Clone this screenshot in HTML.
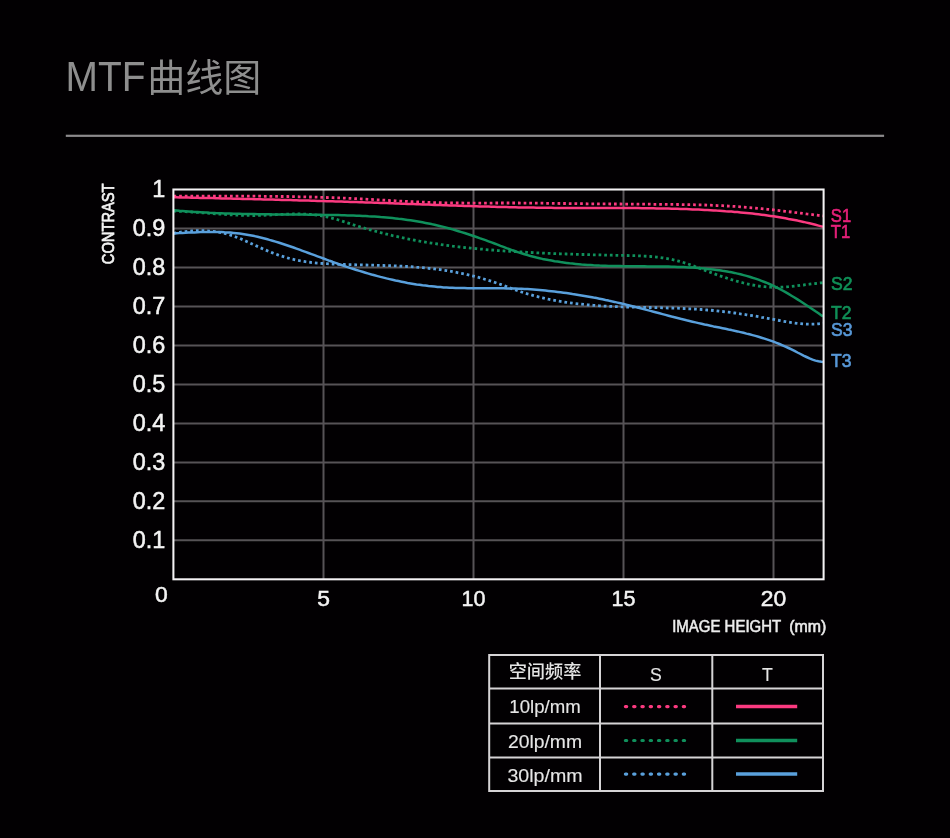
<!DOCTYPE html>
<html lang="zh-CN">
<head>
<meta charset="utf-8">
<title>MTF曲线图</title>
<style>
html,body{margin:0;padding:0;background:#020002;}
body{width:950px;height:838px;overflow:hidden;position:relative;font-family:"Liberation Sans","Noto Sans CJK SC",sans-serif;}
svg{position:absolute;left:0;top:0;display:block}
text{font-family:"Liberation Sans","Noto Sans CJK SC",sans-serif;}
.cjk{font-family:"Liberation Sans","Noto Sans CJK SC",sans-serif;}
</style>
</head>
<body>
<svg width="950" height="838" viewBox="0 0 950 838">
<rect width="950" height="838" fill="#020002"/>
<!-- title -->
<text transform="translate(65.60,91.30) scale(0.906,1)" font-size="43" fill="#8e8e8e">MTF</text>
<text transform="translate(147.20,91.20)" font-size="38" fill="#8e8e8e" class="cjk" font-weight="400">曲线图</text>

<rect x="65.8" y="134.7" width="818.3" height="2.2" fill="#8c8a8c"/>
<!-- grid -->
<g stroke="#565356" stroke-width="2" fill="none"><line x1="173.4" x2="823.6" y1="228.5" y2="228.5"/><line x1="173.4" x2="823.6" y1="267.5" y2="267.5"/><line x1="173.4" x2="823.6" y1="306.4" y2="306.4"/><line x1="173.4" x2="823.6" y1="345.4" y2="345.4"/><line x1="173.4" x2="823.6" y1="384.4" y2="384.4"/><line x1="173.4" x2="823.6" y1="423.4" y2="423.4"/><line x1="173.4" x2="823.6" y1="462.4" y2="462.4"/><line x1="173.4" x2="823.6" y1="501.3" y2="501.3"/><line x1="173.4" x2="823.6" y1="540.3" y2="540.3"/><line x1="323.5" x2="323.5" y1="189.5" y2="579.3"/><line x1="473.5" x2="473.5" y1="189.5" y2="579.3"/><line x1="623.5" x2="623.5" y1="189.5" y2="579.3"/><line x1="773.5" x2="773.5" y1="189.5" y2="579.3"/></g>
<!-- curves -->
<g fill="none" stroke-width="2.5" stroke-linejoin="round">
<path d="M173.5 233.3L176.5 233.2L179.5 233.1L182.5 232.9L185.5 232.8L188.5 232.6L191.5 232.5L194.5 232.4L197.5 232.2L200.5 232.1L203.5 232.1L206.5 232.0L209.5 232.0L212.5 232.0L215.5 232.0L218.5 232.0L221.5 232.1L224.5 232.3L227.5 232.4L230.5 232.6L233.5 232.9L236.5 233.2L239.5 233.5L242.5 233.9L245.5 234.4L248.5 234.9L251.5 235.5L254.5 236.1L257.5 236.8L260.5 237.5L263.5 238.2L266.5 239.0L269.5 239.9L272.5 240.7L275.5 241.6L278.5 242.5L281.5 243.5L284.5 244.5L287.5 245.5L290.5 246.5L293.5 247.5L296.5 248.6L299.5 249.7L302.5 250.8L305.5 251.9L308.5 253.0L311.5 254.1L314.5 255.2L317.5 256.3L320.5 257.4L323.5 258.5L326.5 259.7L329.5 260.8L332.5 261.8L335.5 262.9L338.5 264.0L341.5 265.0L344.5 266.1L347.5 267.1L350.5 268.1L353.5 269.0L356.5 270.0L359.5 270.9L362.5 271.8L365.5 272.7L368.5 273.6L371.5 274.5L374.5 275.3L377.5 276.1L380.5 276.9L383.5 277.6L386.5 278.4L389.5 279.1L392.5 279.8L395.5 280.5L398.5 281.1L401.5 281.7L404.5 282.3L407.5 282.9L410.5 283.4L413.5 283.9L416.5 284.4L419.5 284.8L422.5 285.3L425.5 285.6L428.5 286.0L431.5 286.3L434.5 286.6L437.5 286.9L440.5 287.1L443.5 287.4L446.5 287.5L449.5 287.7L452.5 287.8L455.5 287.9L458.5 288.0L461.5 288.1L464.5 288.1L467.5 288.2L470.5 288.2L473.5 288.2L476.5 288.2L479.5 288.2L482.5 288.2L485.5 288.2L488.5 288.2L491.5 288.2L494.5 288.3L497.5 288.3L500.5 288.3L503.5 288.3L506.5 288.4L509.5 288.4L512.5 288.5L515.5 288.6L518.5 288.7L521.5 288.8L524.5 289.0L527.5 289.1L530.5 289.3L533.5 289.5L536.5 289.7L539.5 290.0L542.5 290.3L545.5 290.6L548.5 290.9L551.5 291.2L554.5 291.5L557.5 291.9L560.5 292.3L563.5 292.7L566.5 293.1L569.5 293.5L572.5 294.0L575.5 294.4L578.5 294.9L581.5 295.4L584.5 295.9L587.5 296.4L590.5 297.0L593.5 297.6L596.5 298.1L599.5 298.7L602.5 299.3L605.5 300.0L608.5 300.6L611.5 301.3L614.5 301.9L617.5 302.6L620.5 303.3L623.5 304.0L626.5 304.8L629.5 305.5L632.5 306.2L635.5 307.0L638.5 307.8L641.5 308.5L644.5 309.3L647.5 310.1L650.5 310.9L653.5 311.7L656.5 312.5L659.5 313.3L662.5 314.1L665.5 314.9L668.5 315.7L671.5 316.5L674.5 317.2L677.5 318.0L680.5 318.8L683.5 319.5L686.5 320.3L689.5 321.0L692.5 321.7L695.5 322.4L698.5 323.1L701.5 323.8L704.5 324.5L707.5 325.1L710.5 325.7L713.5 326.4L716.5 327.0L719.5 327.6L722.5 328.2L725.5 328.8L728.5 329.5L731.5 330.1L734.5 330.8L737.5 331.4L740.5 332.1L743.5 332.8L746.5 333.6L749.5 334.3L752.5 335.1L755.5 335.9L758.5 336.8L761.5 337.7L764.5 338.6L767.5 339.6L770.5 340.6L773.5 341.7L776.5 342.8L779.5 344.0L782.5 345.3L785.5 346.6L788.5 348.0L791.5 349.4L794.5 350.9L797.5 352.5L800.5 354.0L803.5 355.6L806.5 357.0L809.5 358.4L812.5 359.6L815.5 360.6L818.5 361.3L821.5 361.8L823.0 362.0" stroke="#5aa0dc"/>
<path d="M173.5 233.3L176.5 232.8L179.5 232.3L182.5 231.9L185.5 231.6L188.5 231.2L191.5 231.0L194.5 230.8L197.5 230.7L200.5 230.7L203.5 230.7L206.5 230.8L209.5 231.1L212.5 231.3L215.5 231.7L218.5 232.2L221.5 232.8L224.5 233.4L227.5 234.2L230.5 235.1L233.5 236.1L236.5 237.2L239.5 238.3L242.5 239.6L245.5 240.9L248.5 242.3L251.5 243.7L254.5 245.1L257.5 246.4L260.5 247.8L263.5 249.1L266.5 250.4L269.5 251.7L272.5 252.9L275.5 254.0L278.5 255.1L281.5 256.1L284.5 257.0L287.5 257.9L290.5 258.7L293.5 259.4L296.5 260.1L299.5 260.7L302.5 261.2L305.5 261.7L308.5 262.1L311.5 262.5L314.5 262.8L317.5 263.1L320.5 263.3L323.5 263.5L326.5 263.7L329.5 263.9L332.5 264.0L335.5 264.2L338.5 264.3L341.5 264.4L344.5 264.5L347.5 264.6L350.5 264.7L353.5 264.7L356.5 264.8L359.5 264.9L362.5 264.9L365.5 265.0L368.5 265.1L371.5 265.2L374.5 265.2L377.5 265.3L380.5 265.4L383.5 265.5L386.5 265.6L389.5 265.7L392.5 265.8L395.5 265.9L398.5 266.1L401.5 266.2L404.5 266.4L407.5 266.5L410.5 266.7L413.5 266.9L416.5 267.2L419.5 267.4L422.5 267.7L425.5 268.0L428.5 268.3L431.5 268.6L434.5 268.9L437.5 269.3L440.5 269.7L443.5 270.2L446.5 270.6L449.5 271.1L452.5 271.6L455.5 272.2L458.5 272.8L461.5 273.4L464.5 274.0L467.5 274.7L470.5 275.4L473.5 276.1L476.5 276.9L479.5 277.7L482.5 278.6L485.5 279.5L488.5 280.4L491.5 281.3L494.5 282.3L497.5 283.4L500.5 284.4L503.5 285.5L506.5 286.6L509.5 287.8L512.5 288.9L515.5 290.0L518.5 291.0L521.5 292.0L524.5 293.0L527.5 293.9L530.5 294.7L533.5 295.6L536.5 296.4L539.5 297.1L542.5 297.8L545.5 298.5L548.5 299.2L551.5 299.8L554.5 300.3L557.5 300.9L560.5 301.4L563.5 301.9L566.5 302.4L569.5 302.8L572.5 303.2L575.5 303.6L578.5 303.9L581.5 304.2L584.5 304.5L587.5 304.8L590.5 305.1L593.5 305.3L596.5 305.6L599.5 305.8L602.5 306.0L605.5 306.1L608.5 306.3L611.5 306.4L614.5 306.6L617.5 306.7L620.5 306.8L623.5 306.9L626.5 307.0L629.5 307.1L632.5 307.1L635.5 307.2L638.5 307.3L641.5 307.4L644.5 307.4L647.5 307.5L650.5 307.5L653.5 307.6L656.5 307.7L659.5 307.7L662.5 307.8L665.5 307.9L668.5 308.0L671.5 308.0L674.5 308.1L677.5 308.2L680.5 308.4L683.5 308.5L686.5 308.6L689.5 308.8L692.5 308.9L695.5 309.1L698.5 309.3L701.5 309.5L704.5 309.7L707.5 310.0L710.5 310.2L713.5 310.5L716.5 310.8L719.5 311.2L722.5 311.5L725.5 311.9L728.5 312.2L731.5 312.6L734.5 313.0L737.5 313.4L740.5 313.9L743.5 314.3L746.5 314.8L749.5 315.3L752.5 315.7L755.5 316.2L758.5 316.7L761.5 317.3L764.5 317.8L767.5 318.3L770.5 318.9L773.5 319.4L776.5 320.0L779.5 320.5L782.5 321.1L785.5 321.6L788.5 322.1L791.5 322.6L794.5 323.0L797.5 323.4L800.5 323.7L803.5 324.0L806.5 324.1L809.5 324.2L812.5 324.2L815.5 324.1L818.5 323.8L821.5 323.5L823.0 323.2" stroke="#5aa0dc" stroke-dasharray="2.7 2.95" stroke-width="2.8"/>
<path d="M173.5 210.3L176.5 210.5L179.5 210.8L182.5 211.0L185.5 211.3L188.5 211.5L191.5 211.7L194.5 211.9L197.5 212.1L200.5 212.3L203.5 212.5L206.5 212.6L209.5 212.8L212.5 212.9L215.5 213.1L218.5 213.2L221.5 213.3L224.5 213.4L227.5 213.5L230.5 213.6L233.5 213.7L236.5 213.8L239.5 213.8L242.5 213.9L245.5 214.0L248.5 214.0L251.5 214.1L254.5 214.1L257.5 214.2L260.5 214.2L263.5 214.3L266.5 214.3L269.5 214.3L272.5 214.4L275.5 214.4L278.5 214.4L281.5 214.4L284.5 214.5L287.5 214.5L290.5 214.5L293.5 214.5L296.5 214.6L299.5 214.6L302.5 214.6L305.5 214.6L308.5 214.7L311.5 214.7L314.5 214.7L317.5 214.8L320.5 214.8L323.5 214.9L326.5 214.9L329.5 215.0L332.5 215.0L335.5 215.1L338.5 215.1L341.5 215.2L344.5 215.3L347.5 215.4L350.5 215.5L353.5 215.6L356.5 215.7L359.5 215.8L362.5 216.0L365.5 216.1L368.5 216.3L371.5 216.4L374.5 216.6L377.5 216.8L380.5 217.1L383.5 217.3L386.5 217.5L389.5 217.8L392.5 218.1L395.5 218.4L398.5 218.8L401.5 219.1L404.5 219.5L407.5 219.9L410.5 220.3L413.5 220.8L416.5 221.3L419.5 221.8L422.5 222.3L425.5 222.9L428.5 223.5L431.5 224.1L434.5 224.8L437.5 225.5L440.5 226.2L443.5 226.9L446.5 227.7L449.5 228.5L452.5 229.4L455.5 230.3L458.5 231.2L461.5 232.1L464.5 233.0L467.5 234.0L470.5 235.0L473.5 236.0L476.5 237.0L479.5 238.1L482.5 239.1L485.5 240.2L488.5 241.3L491.5 242.4L494.5 243.5L497.5 244.6L500.5 245.8L503.5 246.9L506.5 248.1L509.5 249.2L512.5 250.3L515.5 251.3L518.5 252.4L521.5 253.3L524.5 254.2L527.5 255.1L530.5 256.0L533.5 256.7L536.5 257.5L539.5 258.2L542.5 258.9L545.5 259.5L548.5 260.1L551.5 260.6L554.5 261.2L557.5 261.6L560.5 262.1L563.5 262.5L566.5 262.9L569.5 263.3L572.5 263.6L575.5 263.9L578.5 264.2L581.5 264.5L584.5 264.7L587.5 264.9L590.5 265.1L593.5 265.3L596.5 265.4L599.5 265.6L602.5 265.7L605.5 265.8L608.5 265.9L611.5 266.0L614.5 266.0L617.5 266.1L620.5 266.1L623.5 266.2L626.5 266.2L629.5 266.2L632.5 266.3L635.5 266.3L638.5 266.3L641.5 266.3L644.5 266.3L647.5 266.4L650.5 266.4L653.5 266.4L656.5 266.4L659.5 266.5L662.5 266.5L665.5 266.6L668.5 266.6L671.5 266.7L674.5 266.8L677.5 266.9L680.5 267.0L683.5 267.1L686.5 267.3L689.5 267.4L692.5 267.6L695.5 267.8L698.5 268.0L701.5 268.3L704.5 268.6L707.5 268.9L710.5 269.2L713.5 269.5L716.5 269.9L719.5 270.3L722.5 270.8L725.5 271.2L728.5 271.8L731.5 272.3L734.5 272.9L737.5 273.6L740.5 274.3L743.5 275.1L746.5 275.9L749.5 276.7L752.5 277.7L755.5 278.6L758.5 279.7L761.5 280.8L764.5 282.0L767.5 283.2L770.5 284.5L773.5 285.9L776.5 287.4L779.5 288.9L782.5 290.5L785.5 292.2L788.5 293.9L791.5 295.7L794.5 297.5L797.5 299.4L800.5 301.3L803.5 303.2L806.5 305.2L809.5 307.2L812.5 309.2L815.5 311.3L818.5 313.3L821.5 315.4L823.0 316.4" stroke="#10905c"/>
<path d="M173.5 211.0L176.5 211.1L179.5 211.3L182.5 211.4L185.5 211.6L188.5 211.8L191.5 212.0L194.5 212.2L197.5 212.4L200.5 212.7L203.5 212.9L206.5 213.1L209.5 213.3L212.5 213.6L215.5 213.8L218.5 214.0L221.5 214.2L224.5 214.4L227.5 214.6L230.5 214.8L233.5 214.9L236.5 215.1L239.5 215.2L242.5 215.3L245.5 215.4L248.5 215.4L251.5 215.5L254.5 215.5L257.5 215.4L260.5 215.4L263.5 215.3L266.5 215.2L269.5 215.0L272.5 214.9L275.5 214.7L278.5 214.6L281.5 214.4L284.5 214.3L287.5 214.2L290.5 214.1L293.5 214.0L296.5 214.0L299.5 214.0L302.5 214.0L305.5 214.1L308.5 214.3L311.5 214.5L314.5 214.8L317.5 215.2L320.5 215.6L323.5 216.2L326.5 216.8L329.5 217.5L332.5 218.3L335.5 219.1L338.5 220.0L341.5 220.9L344.5 221.9L347.5 222.8L350.5 223.8L353.5 224.8L356.5 225.7L359.5 226.7L362.5 227.6L365.5 228.5L368.5 229.4L371.5 230.2L374.5 231.0L377.5 231.8L380.5 232.6L383.5 233.4L386.5 234.1L389.5 234.8L392.5 235.6L395.5 236.2L398.5 236.9L401.5 237.6L404.5 238.2L407.5 238.8L410.5 239.4L413.5 240.0L416.5 240.5L419.5 241.1L422.5 241.6L425.5 242.1L428.5 242.6L431.5 243.1L434.5 243.6L437.5 244.0L440.5 244.5L443.5 244.9L446.5 245.3L449.5 245.7L452.5 246.1L455.5 246.4L458.5 246.8L461.5 247.1L464.5 247.5L467.5 247.8L470.5 248.1L473.5 248.4L476.5 248.7L479.5 249.0L482.5 249.2L485.5 249.5L488.5 249.8L491.5 250.0L494.5 250.2L497.5 250.5L500.5 250.7L503.5 250.9L506.5 251.1L509.5 251.3L512.5 251.5L515.5 251.7L518.5 251.8L521.5 252.0L524.5 252.2L527.5 252.3L530.5 252.5L533.5 252.6L536.5 252.8L539.5 252.9L542.5 253.1L545.5 253.2L548.5 253.3L551.5 253.4L554.5 253.6L557.5 253.7L560.5 253.8L563.5 253.9L566.5 254.0L569.5 254.1L572.5 254.2L575.5 254.3L578.5 254.4L581.5 254.5L584.5 254.5L587.5 254.6L590.5 254.7L593.5 254.8L596.5 254.8L599.5 254.9L602.5 255.0L605.5 255.1L608.5 255.1L611.5 255.2L614.5 255.3L617.5 255.3L620.5 255.4L623.5 255.4L626.5 255.5L629.5 255.6L632.5 255.7L635.5 255.7L638.5 255.8L641.5 256.0L644.5 256.1L647.5 256.3L650.5 256.5L653.5 256.8L656.5 257.1L659.5 257.4L662.5 257.8L665.5 258.3L668.5 258.8L671.5 259.4L674.5 260.1L677.5 260.8L680.5 261.6L683.5 262.5L686.5 263.5L689.5 264.5L692.5 265.6L695.5 266.7L698.5 267.8L701.5 269.0L704.5 270.1L707.5 271.3L710.5 272.4L713.5 273.5L716.5 274.6L719.5 275.7L722.5 276.7L725.5 277.7L728.5 278.7L731.5 279.7L734.5 280.6L737.5 281.4L740.5 282.2L743.5 283.0L746.5 283.7L749.5 284.4L752.5 285.0L755.5 285.5L758.5 286.0L761.5 286.4L764.5 286.7L767.5 287.0L770.5 287.2L773.5 287.3L776.5 287.3L779.5 287.2L782.5 287.1L785.5 286.9L788.5 286.7L791.5 286.4L794.5 286.1L797.5 285.7L800.5 285.3L803.5 285.0L806.5 284.6L809.5 284.2L812.5 283.8L815.5 283.5L818.5 283.1L821.5 282.8L823.0 282.7" stroke="#10905c" stroke-dasharray="2.7 2.95" stroke-width="2.8"/>
<path d="M173.5 197.2L176.5 197.3L179.5 197.4L182.5 197.5L185.5 197.5L188.5 197.6L191.5 197.7L194.5 197.7L197.5 197.8L200.5 197.9L203.5 197.9L206.5 198.0L209.5 198.1L212.5 198.1L215.5 198.2L218.5 198.3L221.5 198.4L224.5 198.4L227.5 198.5L230.5 198.6L233.5 198.7L236.5 198.7L239.5 198.8L242.5 198.9L245.5 198.9L248.5 199.0L251.5 199.1L254.5 199.2L257.5 199.3L260.5 199.3L263.5 199.4L266.5 199.5L269.5 199.6L272.5 199.6L275.5 199.7L278.5 199.8L281.5 199.9L284.5 200.0L287.5 200.0L290.5 200.1L293.5 200.2L296.5 200.3L299.5 200.4L302.5 200.5L305.5 200.5L308.5 200.6L311.5 200.7L314.5 200.8L317.5 200.9L320.5 201.0L323.5 201.1L326.5 201.2L329.5 201.3L332.5 201.3L335.5 201.4L338.5 201.5L341.5 201.6L344.5 201.7L347.5 201.8L350.5 201.9L353.5 202.0L356.5 202.1L359.5 202.2L362.5 202.3L365.5 202.4L368.5 202.5L371.5 202.6L374.5 202.7L377.5 202.8L380.5 202.9L383.5 203.0L386.5 203.1L389.5 203.2L392.5 203.3L395.5 203.4L398.5 203.5L401.5 203.7L404.5 203.8L407.5 203.9L410.5 204.0L413.5 204.1L416.5 204.2L419.5 204.3L422.5 204.4L425.5 204.5L428.5 204.6L431.5 204.7L434.5 204.9L437.5 205.0L440.5 205.1L443.5 205.2L446.5 205.3L449.5 205.4L452.5 205.5L455.5 205.6L458.5 205.7L461.5 205.8L464.5 205.9L467.5 206.0L470.5 206.1L473.5 206.2L476.5 206.3L479.5 206.4L482.5 206.5L485.5 206.5L488.5 206.6L491.5 206.7L494.5 206.8L497.5 206.9L500.5 207.0L503.5 207.0L506.5 207.1L509.5 207.2L512.5 207.2L515.5 207.3L518.5 207.4L521.5 207.4L524.5 207.5L527.5 207.5L530.5 207.6L533.5 207.6L536.5 207.7L539.5 207.7L542.5 207.7L545.5 207.8L548.5 207.8L551.5 207.8L554.5 207.9L557.5 207.9L560.5 207.9L563.5 207.9L566.5 207.9L569.5 207.9L572.5 207.9L575.5 208.0L578.5 208.0L581.5 208.0L584.5 208.0L587.5 208.0L590.5 208.0L593.5 208.0L596.5 208.0L599.5 208.0L602.5 208.0L605.5 208.0L608.5 208.0L611.5 208.0L614.5 208.0L617.5 208.0L620.5 208.0L623.5 208.0L626.5 208.1L629.5 208.1L632.5 208.1L635.5 208.1L638.5 208.1L641.5 208.2L644.5 208.2L647.5 208.2L650.5 208.3L653.5 208.3L656.5 208.4L659.5 208.4L662.5 208.5L665.5 208.5L668.5 208.6L671.5 208.7L674.5 208.8L677.5 208.8L680.5 208.9L683.5 209.0L686.5 209.1L689.5 209.2L692.5 209.4L695.5 209.5L698.5 209.6L701.5 209.7L704.5 209.9L707.5 210.0L710.5 210.2L713.5 210.4L716.5 210.6L719.5 210.7L722.5 210.9L725.5 211.2L728.5 211.4L731.5 211.6L734.5 211.9L737.5 212.1L740.5 212.4L743.5 212.7L746.5 213.0L749.5 213.3L752.5 213.6L755.5 213.9L758.5 214.3L761.5 214.7L764.5 215.1L767.5 215.5L770.5 215.9L773.5 216.3L776.5 216.8L779.5 217.3L782.5 217.8L785.5 218.3L788.5 218.9L791.5 219.4L794.5 220.0L797.5 220.6L800.5 221.3L803.5 221.9L806.5 222.6L809.5 223.3L812.5 224.0L815.5 224.8L818.5 225.6L821.5 226.4L823.0 226.8" stroke="#fb3a80"/>
<path d="M173.5 196.1L176.5 196.1L179.5 196.1L182.5 196.1L185.5 196.1L188.5 196.1L191.5 196.1L194.5 196.1L197.5 196.1L200.5 196.1L203.5 196.1L206.5 196.1L209.5 196.1L212.5 196.1L215.5 196.1L218.5 196.1L221.5 196.1L224.5 196.1L227.5 196.1L230.5 196.1L233.5 196.1L236.5 196.1L239.5 196.1L242.5 196.1L245.5 196.1L248.5 196.2L251.5 196.2L254.5 196.2L257.5 196.2L260.5 196.2L263.5 196.3L266.5 196.3L269.5 196.3L272.5 196.3L275.5 196.4L278.5 196.4L281.5 196.5L284.5 196.5L287.5 196.5L290.5 196.6L293.5 196.6L296.5 196.7L299.5 196.8L302.5 196.8L305.5 196.9L308.5 197.0L311.5 197.0L314.5 197.1L317.5 197.2L320.5 197.3L323.5 197.4L326.5 197.5L329.5 197.6L332.5 197.7L335.5 197.8L338.5 197.9L341.5 198.0L344.5 198.1L347.5 198.3L350.5 198.4L353.5 198.5L356.5 198.7L359.5 198.8L362.5 199.0L365.5 199.1L368.5 199.3L371.5 199.4L374.5 199.6L377.5 199.8L380.5 199.9L383.5 200.1L386.5 200.3L389.5 200.5L392.5 200.6L395.5 200.8L398.5 201.0L401.5 201.1L404.5 201.3L407.5 201.4L410.5 201.6L413.5 201.7L416.5 201.9L419.5 202.0L422.5 202.1L425.5 202.3L428.5 202.4L431.5 202.5L434.5 202.6L437.5 202.7L440.5 202.7L443.5 202.8L446.5 202.9L449.5 202.9L452.5 203.0L455.5 203.0L458.5 203.0L461.5 203.0L464.5 203.1L467.5 203.1L470.5 203.1L473.5 203.1L476.5 203.1L479.5 203.1L482.5 203.1L485.5 203.1L488.5 203.1L491.5 203.1L494.5 203.0L497.5 203.0L500.5 203.0L503.5 203.0L506.5 203.0L509.5 203.0L512.5 203.0L515.5 203.0L518.5 203.0L521.5 203.1L524.5 203.1L527.5 203.1L530.5 203.1L533.5 203.1L536.5 203.2L539.5 203.2L542.5 203.2L545.5 203.3L548.5 203.3L551.5 203.3L554.5 203.4L557.5 203.4L560.5 203.5L563.5 203.5L566.5 203.5L569.5 203.6L572.5 203.6L575.5 203.6L578.5 203.7L581.5 203.7L584.5 203.7L587.5 203.8L590.5 203.8L593.5 203.8L596.5 203.8L599.5 203.9L602.5 203.9L605.5 203.9L608.5 203.9L611.5 204.0L614.5 204.0L617.5 204.0L620.5 204.0L623.5 204.1L626.5 204.1L629.5 204.1L632.5 204.1L635.5 204.1L638.5 204.2L641.5 204.2L644.5 204.2L647.5 204.2L650.5 204.2L653.5 204.3L656.5 204.3L659.5 204.3L662.5 204.3L665.5 204.4L668.5 204.4L671.5 204.4L674.5 204.4L677.5 204.5L680.5 204.5L683.5 204.6L686.5 204.6L689.5 204.7L692.5 204.7L695.5 204.8L698.5 204.9L701.5 204.9L704.5 205.0L707.5 205.1L710.5 205.2L713.5 205.3L716.5 205.5L719.5 205.6L722.5 205.7L725.5 205.9L728.5 206.1L731.5 206.2L734.5 206.4L737.5 206.6L740.5 206.8L743.5 207.1L746.5 207.3L749.5 207.6L752.5 207.8L755.5 208.1L758.5 208.4L761.5 208.7L764.5 209.0L767.5 209.3L770.5 209.6L773.5 209.9L776.5 210.3L779.5 210.6L782.5 211.0L785.5 211.3L788.5 211.7L791.5 212.0L794.5 212.4L797.5 212.7L800.5 213.1L803.5 213.5L806.5 213.9L809.5 214.2L812.5 214.6L815.5 215.0L818.5 215.4L821.5 215.7L823.0 215.9" stroke="#fb3a80" stroke-dasharray="2.7 2.95" stroke-width="2.8"/>
</g>
<!-- frame -->
<rect x="173.4" y="189.5" width="650.2" height="389.8" fill="none" stroke="#f4f2f4" stroke-width="2.05"/>
<!-- axis labels -->
<text transform="translate(165.20,196.50)" font-size="23.4" text-anchor="end" fill="#f4f4f4" stroke="#f4f4f4" stroke-width="0.5">1</text>
<text transform="translate(165.20,235.98)" font-size="23.4" text-anchor="end" fill="#f4f4f4" stroke="#f4f4f4" stroke-width="0.5">0.9</text>
<text transform="translate(165.20,274.96)" font-size="23.4" text-anchor="end" fill="#f4f4f4" stroke="#f4f4f4" stroke-width="0.5">0.8</text>
<text transform="translate(165.20,313.94)" font-size="23.4" text-anchor="end" fill="#f4f4f4" stroke="#f4f4f4" stroke-width="0.5">0.7</text>
<text transform="translate(165.20,352.92)" font-size="23.4" text-anchor="end" fill="#f4f4f4" stroke="#f4f4f4" stroke-width="0.5">0.6</text>
<text transform="translate(165.20,391.90)" font-size="23.4" text-anchor="end" fill="#f4f4f4" stroke="#f4f4f4" stroke-width="0.5">0.5</text>
<text transform="translate(165.20,430.88)" font-size="23.4" text-anchor="end" fill="#f4f4f4" stroke="#f4f4f4" stroke-width="0.5">0.4</text>
<text transform="translate(165.20,469.86)" font-size="23.4" text-anchor="end" fill="#f4f4f4" stroke="#f4f4f4" stroke-width="0.5">0.3</text>
<text transform="translate(165.20,508.84)" font-size="23.4" text-anchor="end" fill="#f4f4f4" stroke="#f4f4f4" stroke-width="0.5">0.2</text>
<text transform="translate(165.20,547.82)" font-size="23.4" text-anchor="end" fill="#f4f4f4" stroke="#f4f4f4" stroke-width="0.5">0.1</text>
<text transform="translate(161.30,601.90)" font-size="22.9" text-anchor="middle" fill="#f4f4f4" stroke="#f4f4f4" stroke-width="0.5">0</text>
<text transform="translate(323.50,606.20)" font-size="22.9" text-anchor="middle" fill="#f4f4f4" stroke="#f4f4f4" stroke-width="0.5">5</text>
<text transform="translate(473.40,606.20) scale(0.94,1)" font-size="22.9" text-anchor="middle" fill="#f4f4f4" stroke="#f4f4f4" stroke-width="0.5">10</text>
<text transform="translate(623.40,606.20) scale(0.94,1)" font-size="22.9" text-anchor="middle" fill="#f4f4f4" stroke="#f4f4f4" stroke-width="0.5">15</text>
<text transform="translate(773.40,606.20)" font-size="22.9" text-anchor="middle" fill="#f4f4f4" stroke="#f4f4f4" stroke-width="0.5">20</text>

<text transform="translate(114.30,264.20) rotate(-90) scale(0.875,1)" font-size="16.8" fill="#f4f4f4" stroke="#f4f4f4" stroke-width="0.7">CONTRAST</text>

<text transform="translate(672.20,631.60) scale(0.96,1)" font-size="15.6" fill="#ececec" stroke="#ececec" stroke-width="0.55">IMAGE HEIGHT</text>
<text transform="translate(789.20,631.60) scale(1.02,1)" font-size="15.6" fill="#ececec" stroke="#ececec" stroke-width="0.55">(mm)</text>

<!-- curve labels -->
<text transform="translate(830.80,221.80) scale(0.87,1)" font-size="19.1" fill="#e8207a" stroke="#e8207a" stroke-width="0.65">S1</text>
<text transform="translate(830.80,238.30) scale(0.87,1)" font-size="19.1" fill="#e8207a" stroke="#e8207a" stroke-width="0.65">T1</text>
<text transform="translate(831.10,290.00) scale(0.92,1)" font-size="19.1" fill="#109058" stroke="#109058" stroke-width="0.65">S2</text>
<text transform="translate(831.10,319.30) scale(0.92,1)" font-size="19.1" fill="#109058" stroke="#109058" stroke-width="0.65">T2</text>
<text transform="translate(831.10,336.10) scale(0.92,1)" font-size="19.1" fill="#5898d8" stroke="#5898d8" stroke-width="0.65">S3</text>
<text transform="translate(831.10,367.30) scale(0.92,1)" font-size="19.1" fill="#5898d8" stroke="#5898d8" stroke-width="0.65">T3</text>

<!-- legend table -->
<g stroke="#d6d4d6" stroke-width="2" fill="none">
<rect x="489.2" y="655" width="333.8" height="136"/>
<line x1="600" x2="600" y1="655" y2="791"/>
<line x1="712.3" x2="712.3" y1="655" y2="791"/>
<line x1="489.2" x2="823" y1="688.6" y2="688.6"/>
<line x1="489.2" x2="823" y1="723.6" y2="723.6"/>
<line x1="489.2" x2="823" y1="757.6" y2="757.6"/>
</g>
<text transform="translate(545.00,678.30)" font-size="18.2" text-anchor="middle" fill="#e4e4e4" class="cjk" font-weight="500">空间频率</text>
<text transform="translate(655.80,680.80) scale(0.95,1)" font-size="18.6" text-anchor="middle" fill="#e6e6e6" stroke="#e6e6e6" stroke-width="0.12">S</text>
<text transform="translate(767.40,681.00) scale(0.95,1)" font-size="18.6" text-anchor="middle" fill="#e6e6e6" stroke="#e6e6e6" stroke-width="0.12">T</text>
<text transform="translate(545.00,713.20)" font-size="18.6" text-anchor="middle" fill="#e6e6e6" stroke="#e6e6e6" stroke-width="0.12">10lp/mm</text>
<text transform="translate(545.00,747.60) scale(1.04,1)" font-size="18.6" text-anchor="middle" fill="#e6e6e6" stroke="#e6e6e6" stroke-width="0.12">20lp/mm</text>
<text transform="translate(545.00,781.60) scale(1.055,1)" font-size="18.6" text-anchor="middle" fill="#e6e6e6" stroke="#e6e6e6" stroke-width="0.12">30lp/mm</text>

<g fill="none" stroke-width="3.2" stroke-linecap="round" stroke-dasharray="1.3 6.97">
<line x1="625.4" x2="685" y1="706.6" y2="706.6" stroke="#fb3a80"/>
<line x1="625.4" x2="685" y1="740.5" y2="740.5" stroke="#10905c"/>
<line x1="625.4" x2="685" y1="774.1" y2="774.1" stroke="#5aa0dc"/>
</g>
<g fill="none" stroke-width="3.5">
<line x1="736" x2="797.2" y1="706.6" y2="706.6" stroke="#fb3a80"/>
<line x1="736" x2="797.2" y1="740.5" y2="740.5" stroke="#10905c"/>
<line x1="736" x2="797.2" y1="774.1" y2="774.1" stroke="#5aa0dc"/>
</g>
</svg>
</body>
</html>
